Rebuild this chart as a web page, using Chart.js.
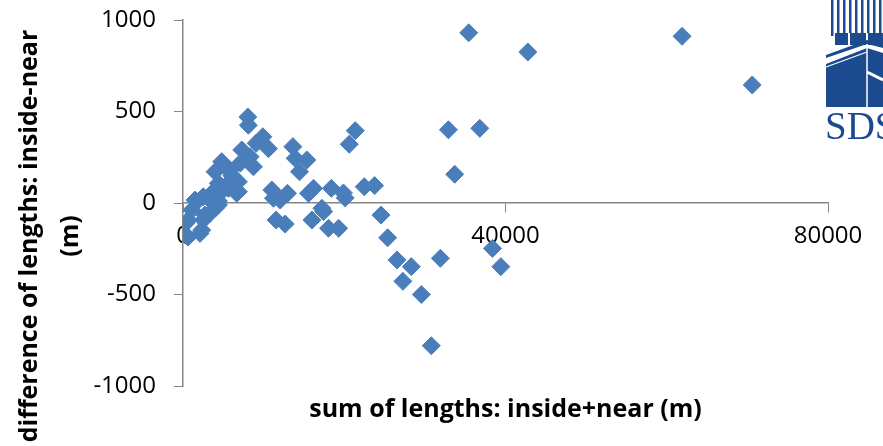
<!DOCTYPE html>
<html>
<head>
<meta charset="utf-8">
<script src="https://cdn.jsdelivr.net/npm/chart.js@4/dist/chart.umd.min.js"></script>
<style>
  html, body { margin: 0; padding: 0; background: #ffffff; }
  canvas { display: block; }
</style>
</head>
<body>
<canvas id="chart" width="883" height="446"></canvas>
<script>
// Sum of lengths (inside + near), metres
const sumLengths = [
  250, 620, 660, 350, 1080, 1490, 1700, 2110, 2320, 2520,
  2520, 2730, 3140, 3350, 3560, 3975, 3975, 4390, 4390, 4390,
  4800, 4800, 5220, 5630, 5630, 5840, 6050, 6670, 6870, 6870,
  7080, 7290, 8040, 8110, 8320, 8730, 9070, 9900, 10600,
  11015, 11220, 12050, 12960, 11550, 12670, 13625, 13910, 15360, 14450,
  15570, 16190, 15990, 17230, 17440, 18050, 19300, 18400, 19900, 20120,
  20620, 21370, 22480, 23765, 24560, 25380, 26540, 27270, 28320, 29565,
  30800, 31925, 32920, 33700, 35440, 36810, 38385, 39420, 42770, 61900,
  70600
];
// Difference of lengths (inside - near), metres
const diffLengths = [
  -175, -186, -93, -110, -38, 16, 7, -166, -148, 34,
  -93, -66, 26, -56, 53, -29, 171, 108, 11, -11,
  226, 62, 200, 108, 80, 180, 150, 53, 116, 62,
  217, 290, 470, 425, 253, 198, 326, 362, 297,
  71, 26, 16, 53, -93, -115, 308, 244, 235, 171,
  53, 80, -93, -29, -47, -138, -138, 80, 55, 28,
  321, 395, 89, 95, -66, -190, -311, -428, -348, -500,
  -780, -302, 400, 157, 930, 408, -248, -348, 825, 911,
  645
];
const xTickValues = [0, 40000, 80000];
const yTickValues = [-1000, -500, 0, 500, 1000];
const xTitle = 'sum of lengths: inside+near (m)';
const yTitle = ['difference of lengths: inside-near', '(m)'];

const points = sumLengths.map((x, i) => ({ x, y: diffLengths[i] }));

const AXIS_GREY = '#868686';
const MARK_BLUE = '#4A7EBB';
const LOGO_BLUE = '#1c4a8e';

// Axis titles drawn as canvas text around the plot area
const axisTitles = {
  id: 'axisTitles',
  afterDraw(chart) {
    const { ctx, chartArea } = chart;
    ctx.save();
    ctx.fillStyle = '#000000';
    ctx.textAlign = 'center';
    ctx.textBaseline = 'middle';
    ctx.font = 'bold 25px "Open Sans"';
    ctx.fillText(xTitle, (chartArea.left + chartArea.right) / 2, chartArea.bottom + 24);

    ctx.font = 'bold 25px "Open Sans"';
    ctx.translate(0, 236);
    ctx.rotate(-Math.PI / 2);
    ctx.fillText(yTitle[0], 0, 30);
    ctx.fillText(yTitle[1], 0, 71);
    ctx.restore();
  }
};

// Building emblem with "SDS" lettering in the top-right corner
const emblem = {
  id: 'emblem',
  afterDraw(chart) {
    const { ctx } = chart;
    ctx.save();
    ctx.fillStyle = LOGO_BLUE;
    // columns at the top
    for (let x = 831; x < 883; x += 6) ctx.fillRect(x, 0, 2.5, 36);
    // upper tier
    ctx.fillRect(835, 33, 48, 12);
    ctx.fillStyle = '#ffffff';
    ctx.fillRect(848, 33, 2, 12);
    ctx.fillRect(866, 33, 2, 12);
    ctx.fillStyle = LOGO_BLUE;
    ctx.beginPath();
    ctx.moveTo(826, 55); ctx.lineTo(867, 40); ctx.lineTo(883, 44);
    ctx.lineTo(883, 48); ctx.lineTo(867, 44); ctx.lineTo(826, 58); ctx.closePath(); ctx.fill();
    // main block: left face
    ctx.beginPath();
    ctx.moveTo(826, 64); ctx.lineTo(867, 48); ctx.lineTo(867, 107); ctx.lineTo(826, 107);
    ctx.closePath(); ctx.fill();
    // right face
    ctx.beginPath();
    ctx.moveTo(867, 48); ctx.lineTo(883, 53); ctx.lineTo(883, 107); ctx.lineTo(867, 107);
    ctx.closePath(); ctx.fill();
    // face edge and band highlights
    ctx.strokeStyle = '#ffffff';
    ctx.lineWidth = 1.5;
    ctx.beginPath(); ctx.moveTo(867, 48); ctx.lineTo(867, 107); ctx.stroke();
    ctx.lineWidth = 1.2;
    ctx.beginPath(); ctx.moveTo(826, 67); ctx.lineTo(867, 52); ctx.stroke();
    ctx.lineWidth = 3;
    ctx.beginPath(); ctx.moveTo(867, 72); ctx.lineTo(883, 80); ctx.stroke();
    // lettering
    ctx.fillStyle = LOGO_BLUE;
    ctx.font = '39px "Liberation Serif"';
    ctx.textAlign = 'left';
    ctx.textBaseline = 'alphabetic';
    ctx.fillText('SDS', 825, 139);
    ctx.restore();
  }
};

new Chart(document.getElementById('chart'), {
  type: 'scatter',
  data: {
    datasets: [{
      data: points,
      pointStyle: 'rectRot',
      pointRadius: 9,
      pointHoverRadius: 9,
      backgroundColor: MARK_BLUE,
      borderColor: MARK_BLUE,
      borderWidth: 1
    }]
  },
  options: {
    responsive: false,
    animation: false,
    events: [],
    layout: { padding: { left: 0, top: 20, right: 55, bottom: 60 } },
    plugins: {
      legend: { display: false },
      tooltip: { enabled: false },
      title: { display: false }
    },
    scales: {
      x: {
        type: 'linear',
        min: 0,
        max: 80000,
        position: { y: 0 },
        afterBuildTicks: s => { s.ticks = xTickValues.map(v => ({ value: v })); },
        grid: { drawOnChartArea: false, drawTicks: true, tickLength: 9, color: AXIS_GREY },
        border: { display: true, color: AXIS_GREY, width: 1.5 },
        ticks: {
          padding: 10,
          color: '#000000',
          font: { family: '"Open Sans"', size: 24 },
          maxRotation: 0,
          callback: v => String(v)
        }
      },
      y: {
        type: 'linear',
        min: -1000,
        max: 1000,
        afterBuildTicks: s => { s.ticks = yTickValues.map(v => ({ value: v })); },
        afterFit: s => { s.width = 183; s.paddingTop = 0; s.paddingBottom = 0; },
        grid: { drawOnChartArea: false, drawTicks: true, tickLength: 9, color: AXIS_GREY },
        border: { display: true, color: AXIS_GREY, width: 1.5 },
        ticks: {
          padding: 18,
          color: '#000000',
          font: { family: '"Open Sans"', size: 24 },
          callback: v => String(v)
        }
      }
    }
  },
  plugins: [axisTitles, emblem]
});
</script>
</body>
</html>
